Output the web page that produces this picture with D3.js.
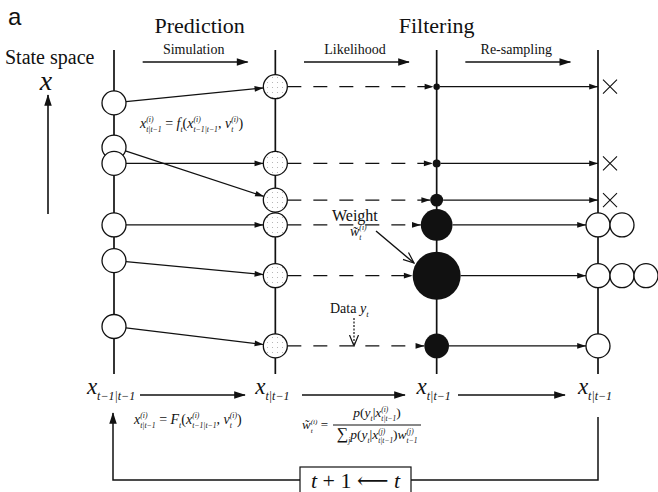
<!DOCTYPE html>
<html>
<head>
<meta charset="utf-8">
<script src="https://cdn.jsdelivr.net/npm/d3@7/dist/d3.min.js"></script>
<style>
  html, body { margin: 0; padding: 0; background: #fff; }
  svg { display: block; }
  svg text { fill: #111; white-space: pre; }
</style>
</head>
<body>
<svg id="chart" width="658" height="492"></svg>
<script>
// ---- particle filter: one cycle of prediction, weighting and re-sampling ----
const stageSubs   = ["t−1|t−1", "t|t−1", "t|t−1", "t|t−1"];   // x_{...} under each column
const stageTitles = ["Prediction", "Filtering"];
const stepLabels  = ["Simulation", "Likelihood", "Re-sampling"];

// particle states before and after the simulation step (state-space units)
const priorState     = [25.1, 19.5, 21.0, 13.8, 10.5, 4.4];
const predictedState = [26.6, 19.5, 16.1, 13.8, 9.1, 2.6];
// normalised likelihood weights and resulting number of copies
const weights = [0.01, 0.015, 0.04, 0.24, 0.55, 0.145];
const copies  = [0, 0, 0, 2, 3, 1];

const SERIF = "'Liberation Serif', 'Times New Roman', 'DejaVu Serif', serif";
const SANS = "'Liberation Sans', Arial, 'DejaVu Sans', sans-serif";
const svg = d3.select("#chart").attr("font-family", SERIF);

const x = d3.scalePoint().domain(d3.range(stageSubs.length)).range([114, 598]);
const y = d3.scaleLinear().domain([0, 30]).range([374, 50]);
const rW = d3.scaleSqrt().domain([0, d3.max(weights)]).range([0, 24]);
const R = 12;            // particle radius

const defs = svg.append("defs");
defs.append("marker").attr("id", "arr").attr("viewBox", "0 -5 12 10")
  .attr("refX", 11).attr("refY", 0).attr("markerWidth", 11).attr("markerHeight", 8)
  .attr("markerUnits", "userSpaceOnUse").attr("orient", "auto")
  .append("path").attr("d", "M0,-3.6L11,0L0,3.6Z").attr("fill", "#111");
defs.append("marker").attr("id", "arrBig").attr("viewBox", "0 -6 14 12")
  .attr("refX", 13).attr("refY", 0).attr("markerWidth", 14).attr("markerHeight", 10)
  .attr("markerUnits", "userSpaceOnUse").attr("orient", "auto")
  .append("path").attr("d", "M0,-4.5L14,0L0,4.5Z").attr("fill", "#111");
defs.append("marker").attr("id", "arrOpen").attr("viewBox", "0 -6 12 12")
  .attr("refX", 11).attr("refY", 0).attr("markerWidth", 12).attr("markerHeight", 12)
  .attr("markerUnits", "userSpaceOnUse").attr("orient", "auto")
  .append("path").attr("d", "M0,-4.5L11,0L0,4.5").attr("fill", "none")
  .attr("stroke", "#111").attr("stroke-width", 1.2);
const pat = defs.append("pattern").attr("id", "speckle").attr("width", 5).attr("height", 5)
  .attr("patternUnits", "userSpaceOnUse");
pat.append("rect").attr("width", 5).attr("height", 5).attr("fill", "#fff");
pat.append("circle").attr("cx", 2.5).attr("cy", 2.5).attr("r", 0.55).attr("fill", "#aaa");

// lay out a small math expression: tokens are base glyphs or stacked sup/sub scripts
function mathText(parent, px, py, tokens, size, anchor, scriptScale) {
  const g = parent.append("g");
  let cx = 0;
  const ss = size * (scriptScale || 0.62);
  const txt = () => g.append("text").attr("font-family", SERIF).attr("xml:space", "preserve");
  tokens.forEach(tk => {
    if (tk.sup !== undefined || tk.sub !== undefined) {
      let w = 0;
      if (tk.sup) {
        const t = txt().attr("x", cx).attr("y", -size * 0.4)
          .attr("font-size", ss).attr("font-style", "italic").text(tk.sup);
        w = Math.max(w, t.node().getComputedTextLength());
      }
      if (tk.sub) {
        const t = txt().attr("x", cx).attr("y", size * (tk.low || 0.28))
          .attr("font-size", ss).attr("font-style", "italic").text(tk.sub);
        w = Math.max(w, t.node().getComputedTextLength());
      }
      cx += w;
    } else {
      const t = txt().attr("x", cx).attr("y", 0)
        .attr("font-size", size * (tk.scale || 1))
        .attr("font-style", tk.i ? "italic" : "normal").text(tk.s);
      cx += t.node().getComputedTextLength();
    }
  });
  const shift = anchor === "middle" ? -cx / 2 : anchor === "end" ? -cx : 0;
  g.attr("transform", `translate(${px + shift},${py})`);
  return cx;
}

// panel letter and headings
svg.append("text").attr("x", 8).attr("y", 25)
  .attr("font-family", SANS).attr("font-size", 24).text("a");
const titleX = [(x(0) + x(1)) / 2 + 5, x(2)];
svg.selectAll("text.title").data(stageTitles).join("text").attr("class", "title")
  .attr("x", (d, i) => titleX[i]).attr("y", 33).attr("text-anchor", "middle")
  .attr("font-size", 22).text(d => d);

// step labels with arrows between columns
stepLabels.forEach((s, i) => {
  const m = (x(i) + x(i + 1)) / 2;
  svg.append("text").attr("x", m - 1).attr("y", 54).attr("text-anchor", "middle")
    .attr("font-size", 14).text(s);
  svg.append("line").attr("x1", m - 52).attr("x2", m + 53).attr("y1", 62).attr("y2", 62)
    .attr("stroke", "#111").attr("stroke-width", 1.5).attr("marker-end", "url(#arrBig)");
});

// state-space axis
svg.append("text").attr("x", 5).attr("y", 64).attr("font-size", 20).text("State space");
svg.append("text").attr("x", 46).attr("y", 90).attr("text-anchor", "middle")
  .attr("font-size", 28).attr("font-style", "italic").text("x");
svg.append("line").attr("x1", 48).attr("x2", 48).attr("y1", 214).attr("y2", 95)
  .attr("stroke", "#111").attr("stroke-width", 1.6).attr("marker-end", "url(#arrBig)");

// vertical state lines for each stage
svg.selectAll("line.col").data(stageSubs).join("line").attr("class", "col")
  .attr("x1", (d, i) => x(i)).attr("x2", (d, i) => x(i))
  .attr("y1", y(30)).attr("y2", y(0))
  .attr("stroke", "#111").attr("stroke-width", 1.7);

const idx = d3.range(priorState.length);

// simulation arrows: prior -> predicted
svg.selectAll("line.sim").data(idx).join("line").attr("class", "sim")
  .each(function (i) {
    const x0 = x(0), y0 = y(priorState[i]), x1 = x(1), y1 = y(predictedState[i]);
    const a = Math.atan2(y1 - y0, x1 - x0);
    d3.select(this)
      .attr("x1", x0 + R * Math.cos(a)).attr("y1", y0 + R * Math.sin(a))
      .attr("x2", x1 - R * Math.cos(a)).attr("y2", y1 - R * Math.sin(a));
  })
  .attr("stroke", "#111").attr("stroke-width", 1.2).attr("marker-end", "url(#arr)");

// likelihood evaluation: dashed arrows to weighted particles
svg.selectAll("line.lik").data(idx).join("line").attr("class", "lik")
  .attr("x1", x(1) + R).attr("x2", i => x(2) - rW(weights[i]))
  .attr("y1", i => y(predictedState[i])).attr("y2", i => y(predictedState[i]))
  .attr("stroke", "#111").attr("stroke-width", 1.3).attr("stroke-dasharray", "14,12")
  .attr("marker-end", "url(#arr)");

// re-sampling arrows
svg.selectAll("line.res").data(idx).join("line").attr("class", "res")
  .attr("x1", i => x(2) + rW(weights[i]))
  .attr("x2", i => copies[i] > 0 ? x(3) - R : x(3))
  .attr("y1", i => y(predictedState[i])).attr("y2", i => y(predictedState[i]))
  .attr("stroke", "#111").attr("stroke-width", 1.2).attr("marker-end", "url(#arr)");

// prior particles (drawn top-down so lower ones overlap)
const priorOrder = idx.slice().sort((a, b) => priorState[b] - priorState[a]);
svg.selectAll("circle.prior").data(priorOrder).join("circle").attr("class", "prior")
  .attr("cx", x(0)).attr("cy", i => y(priorState[i])).attr("r", R)
  .attr("fill", "#fff").attr("stroke", "#111").attr("stroke-width", 1.3);

// predicted particles
svg.selectAll("circle.pred").data(idx).join("circle").attr("class", "pred")
  .attr("cx", x(1)).attr("cy", i => y(predictedState[i])).attr("r", R)
  .attr("fill", "url(#speckle)").attr("stroke", "#111").attr("stroke-width", 1.3);

// weighted particles
svg.selectAll("circle.wt").data(idx).join("circle").attr("class", "wt")
  .attr("cx", x(2)).attr("cy", i => y(predictedState[i])).attr("r", i => rW(weights[i]))
  .attr("fill", "#111");

// re-sampled particles and discarded ones
const resampled = idx.flatMap(i => d3.range(copies[i]).map(k => ({ i, k })));
svg.selectAll("circle.new").data(resampled).join("circle").attr("class", "new")
  .attr("cx", d => x(3) + d.k * 2 * R).attr("cy", d => y(predictedState[d.i])).attr("r", R)
  .attr("fill", "#fff").attr("stroke", "#111").attr("stroke-width", 1.3);
const dropped = idx.filter(i => copies[i] === 0);
const cross = svg.selectAll("g.drop").data(dropped).join("g").attr("class", "drop")
  .attr("transform", i => `translate(${x(3) + 12},${y(predictedState[i])})`);
cross.append("path").attr("d", "M-7,-7L7,7M-7,7L7,-7")
  .attr("stroke", "#111").attr("stroke-width", 1.1).attr("fill", "none");

// formula next to the simulation arrows
mathText(svg, 140, 128, [
  { s: "x", i: 1 }, { sup: "(i)", sub: "t|t−1" }, { s: " = " }, { s: "f", i: 1 }, { sub: "t" },
  { s: "(" }, { s: "x", i: 1 }, { sup: "(i)", sub: "t−1|t−1" }, { s: ", " },
  { s: "v", i: 1 }, { sup: "(i)", sub: "t" }, { s: ")" }
], 14, "start", 0.55);

// weight annotation
svg.append("text").attr("x", 332).attr("y", 221).attr("font-size", 16).text("Weight");
mathText(svg, 350, 236, [{ s: "w\u0303", i: 1 }, { sup: "(i)", sub: "t" }], 14, "start", 0.55);
svg.append("line").attr("x1", 376).attr("y1", 231).attr("x2", 414).attr("y2", 263)
  .attr("stroke", "#111").attr("stroke-width", 1.4).attr("marker-end", "url(#arrOpen)");

// observed data
mathText(svg, 330, 313, [{ s: "Data " }, { s: "y", i: 1 }, { sub: "t" }], 14, "start");
svg.append("line").attr("x1", 354).attr("x2", 354).attr("y1", 318).attr("y2", 346)
  .attr("stroke", "#111").attr("stroke-width", 1.2).attr("stroke-dasharray", "2,1.5")
  .attr("marker-end", "url(#arrOpen)");

// stage variables along the bottom
stageSubs.forEach((s, i) => {
  mathText(svg, x(i) - 3, 394, [{ s: "x", i: 1 }, { sub: s, low: 0.28 }], 23, "middle", 0.52);
});
const botArrows = [[140, 245], [302, 405], [458, 565]];
botArrows.forEach(([a, b]) => {
  svg.append("line").attr("x1", a).attr("x2", b).attr("y1", 395).attr("y2", 395)
    .attr("stroke", "#111").attr("stroke-width", 1.5).attr("marker-end", "url(#arrBig)");
});

// system and weight equations
mathText(svg, 134, 424, [
  { s: "x", i: 1 }, { sup: "(i)", sub: "t|t−1" }, { s: " = " }, { s: "F", i: 1 }, { sub: "t" },
  { s: "(" }, { s: "x", i: 1 }, { sup: "(i)", sub: "t−1|t−1" }, { s: ", " },
  { s: "v", i: 1 }, { sup: "(i)", sub: "t" }, { s: ")" }
], 14, "start", 0.55);
mathText(svg, 302, 429, [{ s: "w\u0303", i: 1 }, { sup: "(i)", sub: "t" }, { s: " =" }], 13, "start", 0.55);
const fracC = 377;
mathText(svg, fracC, 417, [
  { s: "p", i: 1 }, { s: "(" }, { s: "y", i: 1 }, { sub: "t" }, { s: "|" },
  { s: "x", i: 1 }, { sup: "(i)", sub: "t|t−1" }, { s: ")" }
], 13.5, "middle", 0.55);
svg.append("line").attr("x1", 333).attr("x2", 421).attr("y1", 425).attr("y2", 425)
  .attr("stroke", "#111").attr("stroke-width", 1);
mathText(svg, fracC, 439, [
  { s: "∑", scale: 1.2 }, { sub: "j" }, { s: "p", i: 1 }, { s: "(" }, { s: "y", i: 1 }, { sub: "t" },
  { s: "|" }, { s: "x", i: 1 }, { sup: "(j)", sub: "t|t−1" }, { s: ")" },
  { s: "w", i: 1 }, { sup: "(j)", sub: "t−1" }
], 13.5, "middle", 0.55);

// time-update loop back to the start
const boxL = 300, boxR = 411, loopY = 480;
svg.append("path")
  .attr("d", `M${x(3)},417V${loopY}H${boxR}`)
  .attr("fill", "none").attr("stroke", "#111").attr("stroke-width", 1.5);
svg.append("path")
  .attr("d", `M${boxL},${loopY}H${x(0) - 1}V413`)
  .attr("fill", "none").attr("stroke", "#111").attr("stroke-width", 1.5)
  .attr("marker-end", "url(#arrBig)");
svg.append("rect").attr("x", boxL).attr("y", 467).attr("width", boxR - boxL).attr("height", 30)
  .attr("fill", "#fff").attr("stroke", "#111").attr("stroke-width", 1.2);
mathText(svg, (boxL + boxR) / 2, 488, [
  { s: "t", i: 1 }, { s: " + 1 " }, { s: "⟵" }, { s: " " }, { s: "t", i: 1 }
], 22, "middle");
</script>
</body>
</html>
